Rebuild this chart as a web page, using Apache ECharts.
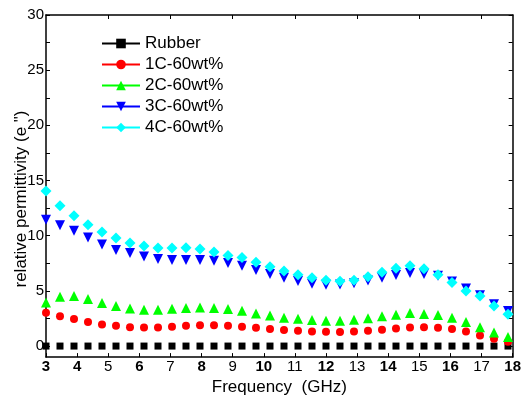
<!DOCTYPE html>
<html><head><meta charset="utf-8">
<script src="https://cdn.jsdelivr.net/npm/echarts@6/dist/echarts.min.js"></script>
<style>html,body{margin:0;padding:0;background:#fff}#c{width:524px;height:401px}</style>
</head><body><div id="c"></div>
<script>
const freq = [3, 3.45, 3.9, 4.35, 4.8, 5.25, 5.7, 6.15, 6.6, 7.05, 7.5, 7.95, 8.4, 8.85, 9.3, 9.75, 10.2, 10.65, 11.1, 11.55, 12, 12.45, 12.9, 13.35, 13.8, 14.25, 14.7, 15.15, 15.6, 16.05, 16.5, 16.95, 17.4, 17.85];
const rubber = [0,0,0,0,0,0,0,0,0,0,0,0,0,0,0,0,0,0,0,0,0,0,0,0,0,0,0,0,0,0,0,0,0,0];
const c1 = [3.02,2.70,2.46,2.19,1.95,1.83,1.71,1.68,1.68,1.74,1.83,1.89,1.89,1.83,1.74,1.65,1.54,1.45,1.39,1.32,1.29,1.27,1.32,1.39,1.47,1.59,1.68,1.71,1.65,1.54,1.32,0.96,0.67,0.40];
const c2 = [3.95,4.48,4.54,4.27,3.91,3.62,3.41,3.29,3.29,3.38,3.44,3.50,3.44,3.35,3.20,2.96,2.78,2.57,2.48,2.37,2.30,2.30,2.39,2.52,2.70,2.84,2.99,2.90,2.81,2.57,2.19,1.71,1.23,0.82];
const c3 = [11.45,10.94,10.46,9.84,9.21,8.70,8.44,8.11,7.90,7.81,7.81,7.81,7.72,7.52,7.28,6.89,6.54,6.18,5.90,5.64,5.55,5.58,5.70,5.94,6.18,6.45,6.63,6.54,6.38,5.85,5.22,4.60,3.80,3.17];
const c4 = [14.06,12.72,11.80,11.00,10.34,9.80,9.33,9.06,8.88,8.88,8.91,8.79,8.53,8.20,8.02,7.60,7.19,6.80,6.47,6.18,5.96,5.88,5.96,6.29,6.68,7.04,7.28,7.01,6.47,5.76,4.98,4.54,3.62,2.88];
const names = ['Rubber','1C-60wt%','2C-60wt%','3C-60wt%','4C-60wt%'];
const yLabelValues = [0,5,10,15,20,25,30];
const yTickValues = [0,2.5,5,7.5,10,12.5,15,17.5,20,22.5,25,27.5,30];
const topTickValues = [5,7,9,11,13,15,17];
const xTitle = 'Frequency  (GHz)';
const yTitle = 'relative permittivity (e ")';

const FONT = "'Liberation Sans', Arial, sans-serif";
const colors = ['#000000','#ff0000','#00ff00','#0000ff','#00ffff'];
const symbols = ['rect','circle','triangle','triangle','diamond'];
const sizes = [7,8,10,10,11];
const rot = [0,0,0,180,0];
const datas = [rubber,c1,c2,c3,c4];

const chart = echarts.init(document.getElementById('c'), null, {renderer:'canvas'});
const axisLine = {show:true, onZero:false, lineStyle:{color:'#000', width:1.5}};

// legend-only line series (line + marker icon), then the scatter marks
const legendSeries = names.map((n,k)=>({
  name:n, type:'line', data:[],
  symbol:symbols[k], symbolSize:sizes[k], symbolRotate:rot[k],
  itemStyle:{color:colors[k]},
  lineStyle:{color:colors[k], width:1}
}));
const markSeries = names.map((n,k)=>({
  name:n, type:'scatter', xAxisIndex:0, yAxisIndex:0,
  data: freq.map((f,i)=>[f, datas[k][i]]),
  symbol:symbols[k], symbolSize:sizes[k], symbolRotate:rot[k],
  itemStyle:{color:colors[k], opacity:1},
  emphasis:{disabled:true}
}));

chart.setOption({
  animation:false,
  backgroundColor:'#fff',
  textStyle:{fontFamily:FONT},
  grid:{left:46,right:7,top:15,bottom:36},
  legend:{
    orient:'vertical', left:101, top:35, padding:0, itemWidth:38, itemHeight:12, itemGap:4,
    data:names,
    textStyle:{fontSize:17, color:'#000', fontFamily:FONT}
  },
  xAxis:[{
    type:'value', min:3, max:18, interval:1, position:'bottom',
    axisLine, splitLine:{show:false},
    axisTick:{show:true, inside:true, length:4, lineStyle:{color:'#000'}},
    axisLabel:{color:'#000', fontSize:15, fontFamily:FONT, margin:2,
      formatter:v => (v%2===0 || v===3) ? '{b|'+v+'}' : String(v),
      rich:{b:{fontWeight:'bold', fontSize:15, fontFamily:FONT, color:'#000'}}},
    name:xTitle, nameLocation:'middle', nameGap:15,
    nameTextStyle:{fontSize:17, color:'#000', fontFamily:FONT}
  },{
    type:'value', min:3, max:18, position:'top',
    axisLine, splitLine:{show:false},
    axisTick:{show:true, inside:true, length:4, customValues:topTickValues, lineStyle:{color:'#000'}},
    axisLabel:{show:false}
  }],
  yAxis:[{
    type:'value', min:-1, max:30, position:'left',
    axisLine, splitLine:{show:false},
    axisTick:{show:true, inside:true, length:4, customValues:yTickValues, lineStyle:{color:'#000'}},
    axisLabel:{color:'#000', fontSize:15, fontFamily:FONT, margin:2, customValues:yLabelValues}
  },{
    type:'value', min:-1, max:30, position:'right',
    axisLine, splitLine:{show:false},
    axisTick:{show:true, inside:true, length:4, customValues:yTickValues, lineStyle:{color:'#000'}},
    axisLabel:{show:false}
  }],
  graphic:[{
    type:'text', x:21, y:199, rotation:Math.PI/2,
    style:{text:yTitle, fontSize:17, fontFamily:FONT, fill:'#000', align:'center', verticalAlign:'middle'}
  }],
  series: legendSeries.concat(markSeries)
});
</script></body></html>
